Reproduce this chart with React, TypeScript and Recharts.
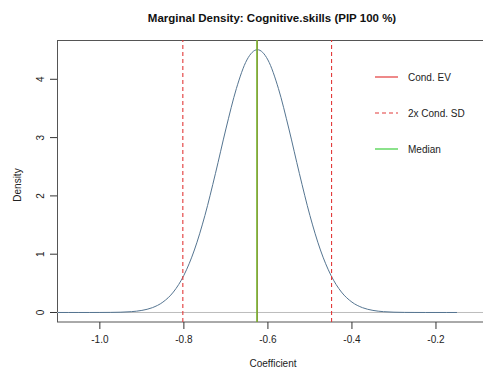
import React from 'react';
import { LineChart, Line, XAxis, YAxis, ReferenceLine, Customized } from 'recharts';

// Marginal posterior density of the coefficient
const coefX = [
  -1.1, -1.075, -1.05, -1.025, -1.0, -0.975, -0.95, -0.925, -0.9, -0.875,
  -0.85, -0.825, -0.8, -0.775, -0.75, -0.725, -0.7, -0.675, -0.65, -0.625,
  -0.6, -0.575, -0.55, -0.525, -0.5, -0.475, -0.45, -0.425, -0.4, -0.375,
  -0.35, -0.325, -0.3, -0.275, -0.25, -0.225, -0.2, -0.175, -0.15,
];
const densityY = [
  0.0, 0.0, 0.0, 0.0002, 0.0006, 0.0018, 0.0053, 0.0144, 0.036, 0.083,
  0.178, 0.351, 0.638, 1.072, 1.663, 2.381, 3.148, 3.842, 4.332, 4.508,
  4.332, 3.842, 3.148, 2.381, 1.663, 1.072, 0.638, 0.351, 0.178, 0.083,
  0.036, 0.0144, 0.0053, 0.0018, 0.0006, 0.0002, 0.0, 0.0, 0.0,
];

const condEV = -0.6255;
const condSD = 0.0885;
const median = -0.626;

const xTicks = [-1.0, -0.8, -0.6, -0.4, -0.2];
const yTicks = [0, 1, 2, 3, 4];

const legendItems = [
  { label: 'Cond. EV', color: '#e23a3a', dash: undefined as string | undefined },
  { label: '2x Cond. SD', color: '#e23a3a', dash: '4 3' },
  { label: 'Median', color: '#3fcf3f', dash: undefined as string | undefined },
];

const data = coefX.map((x, i) => ({ x, density: densityY[i] }));

const FONT = '"Liberation Sans", Arial, sans-serif';

const YTick = (props: any) => {
  const { y, payload } = props;
  const bx = 43.6;
  return (
    <text
      x={bx}
      y={y}
      transform={`rotate(-90, ${bx}, ${y})`}
      textAnchor="middle"
      fontSize={10}
      fontFamily={FONT}
      fill="#222"
    >
      {payload.value}
    </text>
  );
};

const Decorations = () => (
  <g fontFamily={FONT}>
    {/* plot frame */}
    <rect x={57.5} y={40.5} width={437} height={281.5} fill="none" stroke="#555" strokeWidth={1} />
    <text x={272} y={22} textAnchor="middle" fontSize={11.5} fontWeight="bold" fill="#111">
      Marginal Density: Cognitive.skills (PIP 100 %)
    </text>
    <text x={273} y={366.5} textAnchor="middle" fontSize={10} fill="#222">
      Coefficient
    </text>
    <text
      x={20.6}
      y={185}
      transform="rotate(-90, 20.6, 185)"
      textAnchor="middle"
      fontSize={10}
      fill="#222"
    >
      Density
    </text>
    {legendItems.map((it, i) => {
      const ly = 77 + i * 36;
      return (
        <g key={it.label}>
          <line x1={375} x2={398} y1={ly} y2={ly} stroke={it.color} strokeWidth={1.2} strokeDasharray={it.dash} />
          <text x={408} y={ly + 3.5} fontSize={10} fill="#222">
            {it.label}
          </text>
        </g>
      );
    })}
  </g>
);

export default function App() {
  return (
    <div
      style={{
        position: 'absolute',
        left: 0,
        top: 0,
        width: 483,
        height: 369,
        overflow: 'hidden',
        background: '#fff',
      }}
    >
      <LineChart width={495} height={369} data={data} margin={{ top: 40, right: 0, bottom: 0, left: 0 }}>
        <XAxis
          dataKey="x"
          type="number"
          domain={[-1.102, -0.0595]}
          ticks={xTicks}
          interval={0}
          allowDataOverflow
          axisLine={false}
          tickLine={{ stroke: '#333' }}
          tickSize={7}
          tickMargin={7}
          height={47}
          tick={{ fontSize: 10, fill: '#222', fontFamily: FONT }}
          tickFormatter={(v: number) => v.toFixed(1)}
        />
        <YAxis
          type="number"
          domain={[-0.163, 4.674]}
          ticks={yTicks}
          interval={0}
          allowDataOverflow
          axisLine={false}
          tickLine={{ stroke: '#333' }}
          tickSize={7}
          width={57}
          tick={<YTick />}
        />
        <ReferenceLine y={0} stroke="#bdbdbd" strokeWidth={1} />
        <Line
          dataKey="density"
          type="monotone"
          stroke="#557591"
          strokeWidth={1}
          dot={false}
          isAnimationActive={false}
        />
        <ReferenceLine x={condEV - 2 * condSD} stroke="#e23a3a" strokeDasharray="4 3" strokeWidth={1.1} />
        <ReferenceLine x={condEV + 2 * condSD} stroke="#e23a3a" strokeDasharray="4 3" strokeWidth={1.1} />
        <ReferenceLine x={condEV} stroke="#d84040" strokeWidth={1.4} />
        <ReferenceLine x={median} stroke="#5ad02e" strokeWidth={1.6} strokeOpacity={0.82} />
        <Customized component={Decorations} />
      </LineChart>
    </div>
  );
}
